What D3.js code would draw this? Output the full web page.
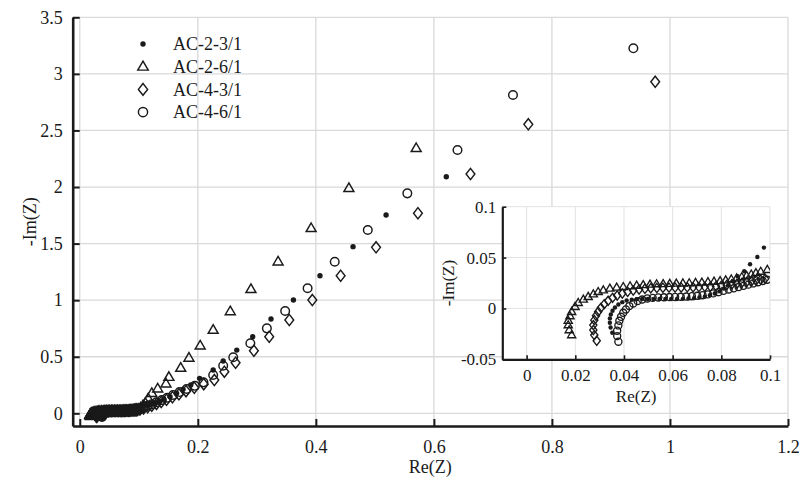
<!DOCTYPE html>
<html>
<head>
<meta charset="utf-8">
<script src="https://cdn.jsdelivr.net/npm/d3@7"></script>
<style>
  body { margin: 0; background: #fff; }
  text { font-family: "Liberation Serif", "Times New Roman", serif; fill: #1a1a1a; }
</style>
</head>
<body>
<svg id="chart" width="802" height="485"></svg>
<script>
// Nyquist data, [Re(Z), -Im(Z)]
const ac23 = [
  [0.0352,-0.0239],[0.0345,-0.0187],[0.0342,-0.0141],[0.0342,-0.0098],[0.0346,-0.0059],[0.0353,-0.0023],
  [0.0363,0.0010],[0.0377,0.0039],[0.0393,0.0062],[0.0411,0.0078],[0.0432,0.0086],[0.0452,0.0090],
  [0.0475,0.0092],[0.0498,0.0093],[0.0522,0.0093],[0.0546,0.0093],[0.0570,0.0092],[0.0594,0.0092],
  [0.0618,0.0093],[0.0642,0.0094],[0.0665,0.0097],[0.0688,0.0101],[0.0710,0.0107],[0.0732,0.0116],
  [0.0753,0.0129],[0.0773,0.0146],[0.0792,0.0168],[0.0810,0.0195],[0.0828,0.0228],[0.0847,0.0268],
  [0.0867,0.0317],[0.0894,0.0366],[0.0918,0.0434],[0.0948,0.0506],[0.0975,0.0598],
  [0.101,0.064],[0.106,0.068],[0.112,0.072],[0.119,0.078],[0.125,0.086],[0.130,0.095],[0.136,0.106],
  [0.142,0.120],[0.153,0.148],[0.164,0.178],[0.175,0.212],[0.188,0.250],[0.203,0.309],[0.226,0.383],
  [0.243,0.462],[0.266,0.559],[0.293,0.677],[0.324,0.833],[0.362,1.001],[0.407,1.216],[0.463,1.473],
  [0.519,1.753],[0.621,2.091]
];

const ac26 = [
  [0.0185,-0.0262],[0.0175,-0.0213],[0.0171,-0.0164],[0.0171,-0.0121],[0.0178,-0.0075],[0.0185,-0.0033],
  [0.0199,0.0016],[0.0212,0.0055],[0.0233,0.0088],[0.0253,0.0114],[0.0274,0.0140],[0.0294,0.0163],
  [0.0315,0.0179],[0.0342,0.0196],[0.0370,0.0206],[0.0397,0.0212],[0.0425,0.0219],[0.0452,0.0225],
  [0.0479,0.0231],[0.0507,0.0236],[0.0534,0.0239],[0.0561,0.0241],[0.0588,0.0243],[0.0615,0.0245],
  [0.0642,0.0247],[0.0668,0.0249],[0.0694,0.0252],[0.0720,0.0255],[0.0745,0.0259],[0.0770,0.0264],
  [0.0795,0.0270],[0.0818,0.0277],[0.0841,0.0286],[0.0863,0.0296],[0.0884,0.0308],[0.0904,0.0321],
  [0.0923,0.0335],[0.0942,0.0349],[0.0962,0.0362],[0.0989,0.0380],
  [0.103,0.048],[0.107,0.068],[0.111,0.092],[0.116,0.130],[0.122,0.177],[0.132,0.218],[0.146,0.262],
  [0.151,0.320],[0.171,0.400],[0.185,0.490],[0.204,0.598],[0.226,0.736],[0.255,0.900],[0.290,1.096],
  [0.336,1.340],[0.392,1.635],[0.456,1.989],[0.570,2.342]
];

const ac43 = [
  [0.0288,-0.0318],[0.0278,-0.0262],[0.0274,-0.0213],[0.0274,-0.0164],[0.0278,-0.0115],[0.0285,-0.0072],
  [0.0294,-0.0033],[0.0305,0.0006],[0.0319,0.0042],[0.0335,0.0075],[0.0353,0.0104],[0.0372,0.0127],
  [0.0393,0.0147],[0.0415,0.0163],[0.0438,0.0176],[0.0462,0.0186],[0.0486,0.0193],[0.0510,0.0198],
  [0.0535,0.0201],[0.0560,0.0203],[0.0585,0.0204],[0.0610,0.0205],[0.0635,0.0206],[0.0660,0.0207],
  [0.0684,0.0208],[0.0708,0.0210],[0.0732,0.0212],[0.0755,0.0215],[0.0778,0.0219],[0.0800,0.0224],
  [0.0822,0.0230],[0.0843,0.0236],[0.0864,0.0243],[0.0884,0.0251],[0.0904,0.0259],[0.0924,0.0267],
  [0.0943,0.0275],[0.0962,0.0283],[0.0980,0.0291],
  [0.102,0.034],[0.108,0.043],[0.115,0.055],[0.122,0.068],[0.130,0.083],[0.138,0.100],[0.147,0.120],
  [0.157,0.142],[0.168,0.168],[0.180,0.196],[0.194,0.226],[0.210,0.258],[0.228,0.294],[0.245,0.368],
  [0.264,0.447],[0.295,0.553],[0.321,0.677],[0.355,0.825],[0.394,1.001],[0.442,1.216],[0.502,1.467],
  [0.573,1.768],[0.662,2.115],[0.760,2.554],[0.975,2.930]
];

const ac46 = [
  [0.0377,-0.0327],[0.0372,-0.0272],[0.0372,-0.0219],[0.0377,-0.0167],[0.0381,-0.0121],[0.0388,-0.0082],
  [0.0397,-0.0043],[0.0408,-0.0010],[0.0422,0.0023],[0.0438,0.0049],[0.0456,0.0072],[0.0475,0.0088],
  [0.0496,0.0098],[0.0518,0.0104],[0.0541,0.0108],[0.0564,0.0110],[0.0587,0.0112],[0.0610,0.0113],
  [0.0633,0.0115],[0.0656,0.0117],[0.0679,0.0120],[0.0701,0.0124],[0.0723,0.0130],[0.0745,0.0138],
  [0.0767,0.0148],[0.0788,0.0160],[0.0809,0.0173],[0.0830,0.0186],[0.0851,0.0198],[0.0871,0.0210],
  [0.0891,0.0222],[0.0911,0.0234],[0.0931,0.0246],[0.0951,0.0258],[0.0970,0.0270],[0.0989,0.0282],
  [0.102,0.040],[0.108,0.052],[0.115,0.066],[0.122,0.081],[0.130,0.098],[0.139,0.117],[0.148,0.138],
  [0.158,0.162],[0.169,0.188],[0.181,0.215],[0.195,0.243],[0.2095,0.274],[0.226,0.339],[0.243,0.421],
  [0.260,0.495],[0.289,0.619],[0.317,0.751],[0.348,0.904],[0.386,1.105],[0.432,1.340],[0.488,1.620],
  [0.555,1.944],[0.640,2.327],[0.734,2.813],[0.938,3.226]
];

const seriesNames = ["AC-2-3/1", "AC-2-6/1", "AC-4-3/1", "AC-4-6/1"];
const seriesMarkers = ["dot", "triangle", "diamond", "circle"];
const seriesData = [ac23, ac26, ac43, ac46];

const mainXTicks = [0, 0.2, 0.4, 0.6, 0.8, 1, 1.2];
const mainYTicks = [0, 0.5, 1, 1.5, 2, 2.5, 3, 3.5];
const insetXTicks = [0, 0.02, 0.04, 0.06, 0.08, 0.1];
const insetYTicks = [-0.05, 0, 0.05, 0.1];

const ink = "#1a1a1a";
const gridColor = "#d9d9d9";

const svg = d3.select("#chart");

// marker path, s = overall scale
function markerPath(type, s) {
  if (type === "triangle") {
    const w = 5 * s, h = 8.6 * s;
    return `M0,${-h * 0.62}L${w},${h * 0.38}L${-w},${h * 0.38}Z`;
  }
  if (type === "diamond") {
    const w = 4.4 * s, h = 5.6 * s;
    return `M0,${-h}L${w},0L0,${h}L${-w},0Z`;
  }
  return null;
}

function drawMarkers(g, data, type, x, y, s, sw) {
  const sel = g.selectAll(null).data(data);
  if (type === "dot") {
    sel.enter().append("circle")
      .attr("cx", d => x(d[0])).attr("cy", d => y(d[1]))
      .attr("r", 2.7 * s).attr("fill", ink);
  } else if (type === "circle") {
    sel.enter().append("circle")
      .attr("cx", d => x(d[0])).attr("cy", d => y(d[1]))
      .attr("r", 4.3 * s).attr("fill", "none")
      .attr("stroke", ink).attr("stroke-width", sw);
  } else {
    sel.enter().append("path")
      .attr("transform", d => `translate(${x(d[0])},${y(d[1])})`)
      .attr("d", markerPath(type, s)).attr("fill", "none")
      .attr("stroke", ink).attr("stroke-width", sw);
  }
}

function drawGrid(g, x, y, xt, yt, color, w) {
  const [x0, x1] = x.range();
  const [y0, y1] = y.range();
  g.selectAll(null).data(xt).enter().append("line")
    .attr("x1", d => x(d)).attr("x2", d => x(d))
    .attr("y1", y0).attr("y2", y1)
    .attr("stroke", color).attr("stroke-width", w);
  g.selectAll(null).data(yt).enter().append("line")
    .attr("x1", x0).attr("x2", x1)
    .attr("y1", d => y(d)).attr("y2", d => y(d))
    .attr("stroke", color).attr("stroke-width", w);
}

function styleAxis(a, lw, tw, fs) {
  a.select(".domain").attr("stroke", ink).attr("stroke-width", lw);
  a.selectAll(".tick line").attr("stroke", ink).attr("stroke-width", tw);
  a.selectAll(".tick text").attr("fill", "#1a1a1a")
    .style("font-family", "'Liberation Serif', serif").style("font-size", fs + "px");
}

// ---------- main axes ----------
const x = d3.scaleLinear().domain([-0.012, 1.2]).range([72.7, 788]);
const y = d3.scaleLinear().domain([-0.112, 3.5]).range([426, 17.3]);

drawGrid(svg.append("g"), x, y, mainXTicks, mainYTicks, gridColor, 1.3);

const marks = svg.append("g");
seriesData.forEach((d, i) => drawMarkers(marks, d, seriesMarkers[i], x, y, 1, 1.45));

const xAxis = svg.append("g")
  .attr("transform", `translate(0,${y.range()[0]})`)
  .call(d3.axisBottom(x).tickValues(mainXTicks).tickFormat(d => String(d))
    .tickSizeInner(-7).tickSizeOuter(0).tickPadding(14));
styleAxis(xAxis, 2.6, 2, 18);

const yAxis = svg.append("g")
  .attr("transform", `translate(${x.range()[0]},0)`)
  .call(d3.axisLeft(y).tickValues(mainYTicks).tickFormat(d => String(d))
    .tickSizeInner(-7).tickSizeOuter(0).tickPadding(10));
styleAxis(yAxis, 2.6, 2, 18);

svg.append("text")
  .attr("x", (x.range()[0] + x.range()[1]) / 2).attr("y", 473)
  .attr("text-anchor", "middle").style("font-size", "18px").text("Re(Z)");

svg.append("text")
  .attr("transform", `translate(30,${(y.range()[0] + y.range()[1]) / 2}) rotate(-90)`)
  .attr("text-anchor", "middle").attr("dy", "0.35em")
  .style("font-size", "18px").text("-Im(Z)");

// legend
const legend = svg.append("g").attr("transform", "translate(143,44)");
seriesNames.forEach((name, i) => {
  const row = legend.append("g").attr("transform", `translate(0,${i * 22.7})`);
  const t = seriesMarkers[i];
  if (t === "dot") {
    row.append("circle").attr("r", 2.7).attr("fill", ink);
  } else if (t === "circle") {
    row.append("circle").attr("r", 4.6).attr("fill", "none")
      .attr("stroke", ink).attr("stroke-width", 1.45);
  } else {
    row.append("path").attr("d", markerPath(t, 1.05)).attr("fill", "none")
      .attr("stroke", ink).attr("stroke-width", 1.45);
  }
  row.append("text").attr("x", 30).attr("dy", "0.35em")
    .style("font-size", "18px").text(name);
});

// ---------- inset ----------
const xi = d3.scaleLinear().domain([-0.01, 0.1]).range([502.3, 770]);
const yi = d3.scaleLinear().domain([-0.05, 0.1]).range([359.3, 206.7]);

svg.append("rect")
  .attr("x", xi.range()[0]).attr("y", yi.range()[1])
  .attr("width", xi.range()[1] - xi.range()[0])
  .attr("height", yi.range()[0] - yi.range()[1])
  .attr("fill", "#fff");

drawGrid(svg.append("g"), xi, yi, insetXTicks, insetYTicks, "#e2e2e2", 1);

svg.append("clipPath").attr("id", "insetClip").append("rect")
  .attr("x", xi.range()[0]).attr("y", yi.range()[1])
  .attr("width", xi.range()[1] - xi.range()[0])
  .attr("height", yi.range()[0] - yi.range()[1]);

const insetMarks = svg.append("g").attr("clip-path", "url(#insetClip)");
seriesData.forEach((d, i) => {
  const inside = d.filter(p => p[0] <= 0.101);
  drawMarkers(insetMarks, inside, seriesMarkers[i], xi, yi, 0.82, 1.35);
});

const xiAxis = svg.append("g")
  .attr("transform", `translate(0,${yi.range()[0]})`)
  .call(d3.axisBottom(xi).tickValues(insetXTicks).tickFormat(d => String(d))
    .tickSizeInner(-4).tickSizeOuter(0).tickPadding(10));
styleAxis(xiAxis, 2.2, 1.6, 17);

const yiAxis = svg.append("g")
  .attr("transform", `translate(${xi.range()[0]},0)`)
  .call(d3.axisLeft(yi).tickValues(insetYTicks).tickFormat(d => String(d))
    .tickSizeInner(-4).tickSizeOuter(0).tickPadding(6));
styleAxis(yiAxis, 2.2, 1.6, 17);

svg.append("text")
  .attr("x", (xi.range()[0] + xi.range()[1]) / 2).attr("y", 402)
  .attr("text-anchor", "middle").style("font-size", "17px").text("Re(Z)");

svg.append("text")
  .attr("transform", `translate(448,${(yi.range()[0] + yi.range()[1]) / 2}) rotate(-90)`)
  .attr("text-anchor", "middle").attr("dy", "0.35em")
  .style("font-size", "17px").text("-Im(Z)");
</script>
</body>
</html>
